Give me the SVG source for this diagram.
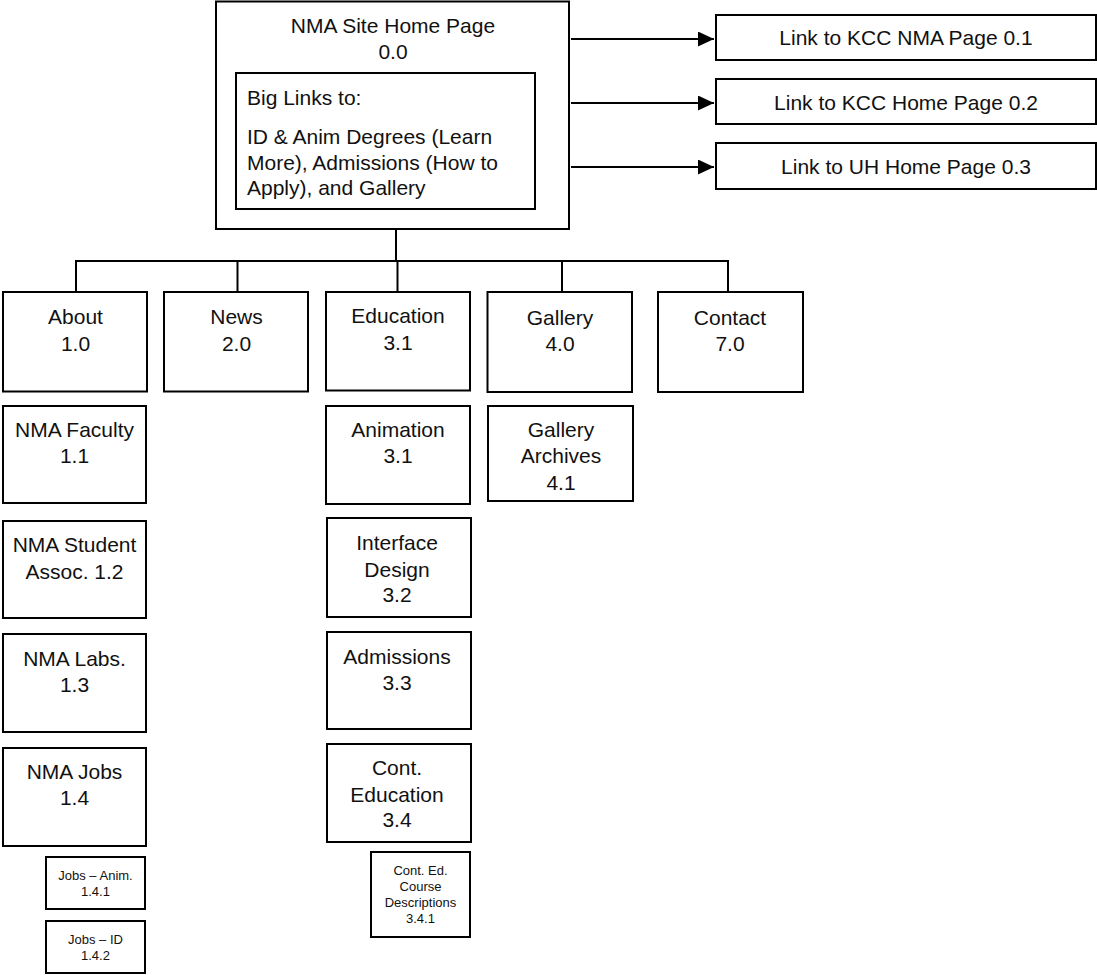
<svg xmlns="http://www.w3.org/2000/svg" width="1097" height="975" viewBox="0 0 1097 975">
<style>
  .box { fill: #fff; stroke: #000; stroke-width: 2; }
  .t { font-family: "Liberation Sans", Arial, Helvetica, sans-serif; font-size: 21px; fill: #111; text-anchor: middle; }
  .tl { font-family: "Liberation Sans", Arial, Helvetica, sans-serif; font-size: 21px; fill: #111; }
  .s { font-family: "Liberation Sans", Arial, Helvetica, sans-serif; font-size: 13px; fill: #111; text-anchor: middle; }
  .c { fill: none; stroke: #000; stroke-width: 2; }
</style>
<defs>
  <marker id="arr" markerWidth="16" markerHeight="15" refX="16" refY="7.5" orient="auto" markerUnits="userSpaceOnUse">
    <path d="M0,0 L16,7.5 L0,15 Z" fill="#000"/>
  </marker>
</defs>
<rect width="1097" height="975" fill="#fff"/>

<g id="connectors">
  <line class="c" x1="571" y1="39" x2="714" y2="39" marker-end="url(#arr)"/>
  <line class="c" x1="571" y1="103" x2="714" y2="103" marker-end="url(#arr)"/>
  <line class="c" x1="571" y1="167" x2="714" y2="167" marker-end="url(#arr)"/>
  <line class="c" x1="396" y1="229" x2="396" y2="261"/>
  <line class="c" x1="75" y1="261" x2="729" y2="261"/>
  <line class="c" x1="76" y1="261" x2="76" y2="292"/>
  <line class="c" x1="237.5" y1="261" x2="237.5" y2="292"/>
  <line class="c" x1="397.5" y1="261" x2="397.5" y2="292"/>
  <line class="c" x1="562" y1="261" x2="562" y2="292"/>
  <line class="c" x1="728" y1="261" x2="728" y2="292"/>
</g>

<g id="home">
  <rect class="box" x="216" y="1.5" width="353" height="227.5"/>
  <text class="t" x="393" y="33">NMA Site Home Page</text>
  <text class="t" x="393" y="59">0.0</text>
  <rect class="box" x="236" y="73" width="299" height="136"/>
  <text class="tl" x="247" y="105">Big Links to:</text>
  <text class="tl" x="247" y="144">ID &amp; Anim Degrees (Learn</text>
  <text class="tl" x="247" y="169.5">More), Admissions (How to</text>
  <text class="tl" x="247" y="195">Apply), and Gallery</text>
</g>

<g id="link01">
  <rect class="box" x="716" y="15" width="380" height="45"/>
  <text class="t" x="906" y="45">Link to KCC NMA Page 0.1</text>
</g>
<g id="link02">
  <rect class="box" x="716" y="79" width="380" height="45"/>
  <text class="t" x="906" y="110">Link to KCC Home Page 0.2</text>
</g>
<g id="link03">
  <rect class="box" x="716" y="143" width="380" height="46"/>
  <text class="t" x="906" y="173.5">Link to UH Home Page 0.3</text>
</g>

<g id="about">
  <rect class="box" x="3" y="292" width="144" height="99.5"/>
  <text class="t" x="75.5" y="324">About</text>
  <text class="t" x="75.5" y="350.5">1.0</text>
</g>
<g id="news">
  <rect class="box" x="164" y="292" width="144" height="99.5"/>
  <text class="t" x="236.5" y="324">News</text>
  <text class="t" x="236.5" y="350.5">2.0</text>
</g>
<g id="education">
  <rect class="box" x="326" y="292" width="144" height="98.5"/>
  <text class="t" x="398" y="323">Education</text>
  <text class="t" x="398" y="350">3.1</text>
</g>
<g id="gallery">
  <rect class="box" x="487.5" y="292" width="144.5" height="100"/>
  <text class="t" x="560" y="324.5">Gallery</text>
  <text class="t" x="560" y="351">4.0</text>
</g>
<g id="contact">
  <rect class="box" x="658" y="292" width="145" height="100"/>
  <text class="t" x="730" y="324.5">Contact</text>
  <text class="t" x="730" y="351">7.0</text>
</g>

<g id="faculty">
  <rect class="box" x="3" y="406" width="143" height="97"/>
  <text class="t" x="74.5" y="437">NMA Faculty</text>
  <text class="t" x="74.5" y="463">1.1</text>
</g>
<g id="student">
  <rect class="box" x="3" y="521" width="143" height="97"/>
  <text class="t" x="74.5" y="552">NMA Student</text>
  <text class="t" x="74.5" y="578.5">Assoc. 1.2</text>
</g>
<g id="labs">
  <rect class="box" x="3" y="634" width="143" height="98"/>
  <text class="t" x="74.5" y="665.5">NMA Labs.</text>
  <text class="t" x="74.5" y="691.5">1.3</text>
</g>
<g id="jobs">
  <rect class="box" x="3" y="748" width="143" height="98"/>
  <text class="t" x="74.5" y="778.5">NMA Jobs</text>
  <text class="t" x="74.5" y="805">1.4</text>
</g>
<g id="jobs-anim">
  <rect class="box" x="46" y="857" width="99" height="52"/>
  <text class="s" x="95.5" y="880">Jobs – Anim.</text>
  <text class="s" x="95.5" y="896">1.4.1</text>
</g>
<g id="jobs-id">
  <rect class="box" x="46" y="921" width="99" height="52"/>
  <text class="s" x="95.5" y="944">Jobs – ID</text>
  <text class="s" x="95.5" y="960">1.4.2</text>
</g>

<g id="animation">
  <rect class="box" x="326" y="406" width="144" height="98"/>
  <text class="t" x="398" y="437">Animation</text>
  <text class="t" x="398" y="463">3.1</text>
</g>
<g id="interface">
  <rect class="box" x="327" y="518" width="144" height="99"/>
  <text class="t" x="397" y="550">Interface</text>
  <text class="t" x="397" y="576.5">Design</text>
  <text class="t" x="397" y="602">3.2</text>
</g>
<g id="admissions">
  <rect class="box" x="327" y="632" width="144" height="97"/>
  <text class="t" x="397" y="663.5">Admissions</text>
  <text class="t" x="397" y="690">3.3</text>
</g>
<g id="conted">
  <rect class="box" x="327" y="744" width="144" height="98"/>
  <text class="t" x="397" y="775">Cont.</text>
  <text class="t" x="397" y="801.5">Education</text>
  <text class="t" x="397" y="827">3.4</text>
</g>
<g id="conted-course">
  <rect class="box" x="371" y="852" width="99" height="85"/>
  <text class="s" x="420.5" y="875">Cont. Ed.</text>
  <text class="s" x="420.5" y="891">Course</text>
  <text class="s" x="420.5" y="907">Descriptions</text>
  <text class="s" x="420.5" y="923">3.4.1</text>
</g>

<g id="gallery-archives">
  <rect class="box" x="488" y="406" width="145" height="95"/>
  <text class="t" x="561" y="437">Gallery</text>
  <text class="t" x="561" y="463">Archives</text>
  <text class="t" x="561" y="490">4.1</text>
</g>
</svg>
